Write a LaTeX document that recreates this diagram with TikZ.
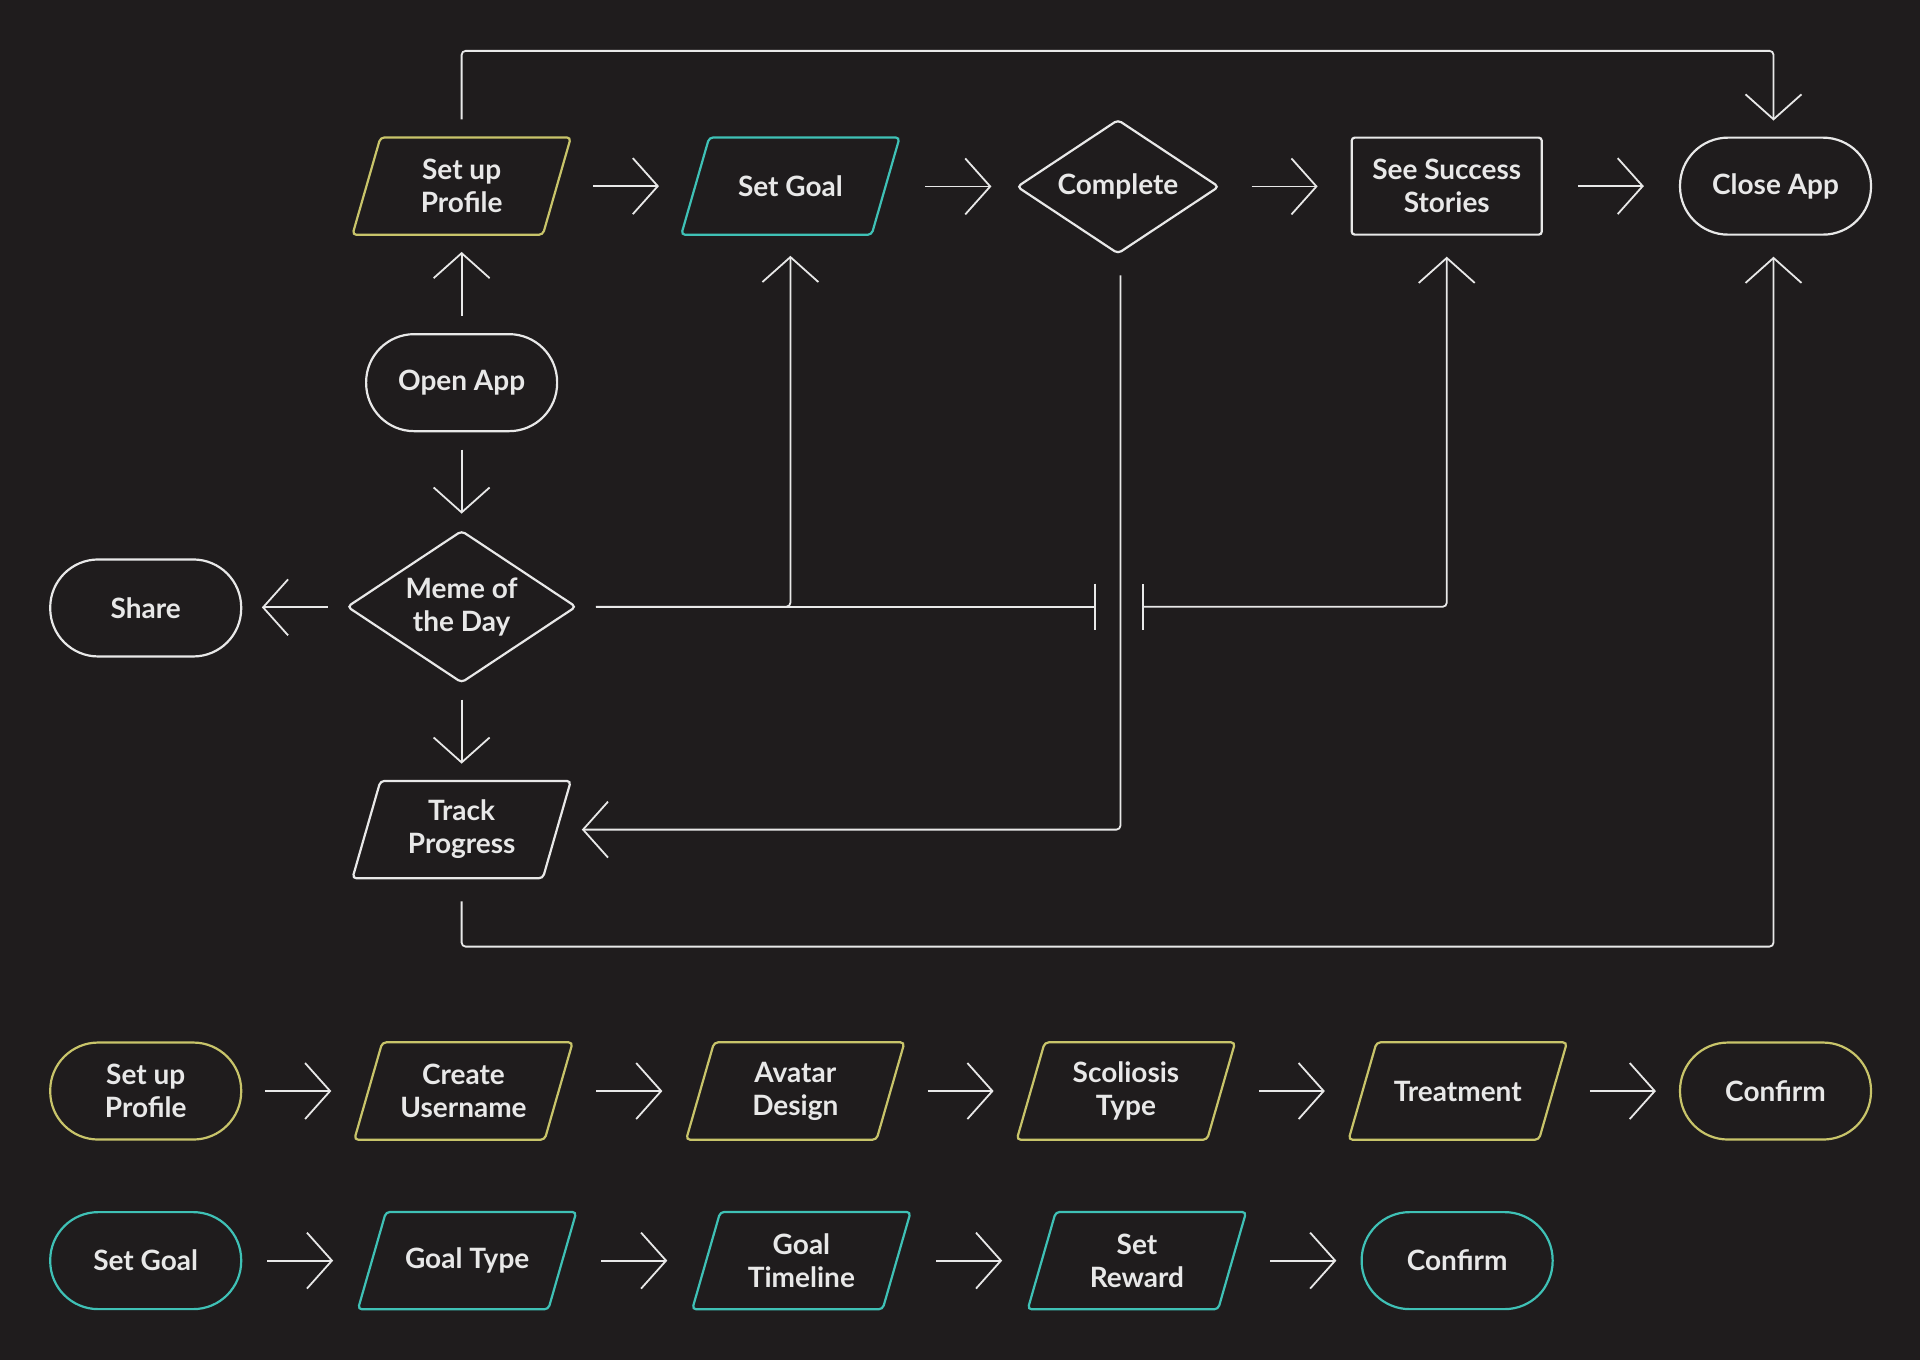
\documentclass[tikz,border=0pt]{standalone}
\usepackage{fontspec}
\setmainfont{Lato}
\usetikzlibrary{arrows.meta,calc}
\definecolor{bg}{HTML}{1F1C1D}
\definecolor{fg}{HTML}{E8E8E8}
\definecolor{ylw}{HTML}{C8C46A}
\definecolor{tel}{HTML}{3FC1B6}
\tikzset{
  box/.style={inner sep=0pt, minimum width=218pt, minimum height=97pt, align=center, text=fg,
    font=\fontsize{28}{33}\selectfont\bfseries},
  border/.style={line width=2.2pt},
  edge/.style={draw=fg, line width=1.8pt},
  arr/.style={edge, -{Straight Barb[length=25pt, width=56pt, line width=1.8pt]}},
  bararr/.style={edge, {Bar[width=46pt, line width=1.8pt]}-{Straight Barb[length=25pt, width=56pt, line width=1.8pt]}},
  barend/.style={edge, -{Bar[width=46pt, line width=1.8pt]}},
  stadium/.style={box, minimum width=191pt, border, rounded corners=48pt},
}
\newcommand\parabox[4]{%
  \node[box] (#1) at (#2) {#3};
  \draw[#4, border, rounded corners=4pt] (#1.south west) -- ([xshift=28pt]#1.north west)
    -- (#1.north east) -- ([xshift=-28pt]#1.south east) -- cycle;}
\newcommand\diabox[5]{%
  \node[box, minimum width=#4, minimum height=#5] (#1) at (#2) {#3};
  \draw[fg, border, rounded corners=4pt] (#1.west) -- (#1.north) -- (#1.east) -- (#1.south) -- cycle;}
\newcommand\linkH[2]{\draw[arr] ($(#1.east)!.5!(#2.west)+(-33pt,0)$) -- ($(#1.east)!.5!(#2.west)+(33pt,0)$);}
\newcommand\linkV[2]{\draw[arr] ($(#1.south)!.5!(#2.north)+(0,32pt)$) -- ($(#1.south)!.5!(#2.north)+(0,-32pt)$);}
\begin{document}
\begin{tikzpicture}[x=1.2245pt, y=-1.2245pt]
\fill[bg] (0,0) rectangle (1568,1110.66);
\useasboundingbox (0,0) rectangle (1568,1110.66);
% top row
\parabox{sup}{377,152}{Set up\\Profile}{ylw}
\parabox{setgoal}{645.5,152}{Set Goal}{tel}
\diabox{complete}{913,152.5}{Complete}{201pt}{133pt}
\node[box, minimum width=190pt, draw=fg, border, rounded corners=3pt] (success) at (1181.5,152) {See Success\\Stories};
\node[stadium, draw=fg] (close) at (1450,152) {Close App};
% left column
\node[stadium, draw=fg] (openapp) at (377,312.5) {Open App};
\diabox{meme}{377,495.5}{Meme of\\the Day}{228pt}{151pt}
\node[stadium, draw=fg] (share) at (119,496.5) {Share};
\parabox{track}{377,677.5}{Track\\Progress}{fg}
\coordinate (j1) at (895,495.5);
\coordinate (j2) at (933,495.5);
% top row links
\linkH{sup}{setgoal}
\linkH{setgoal}{complete}
\linkH{complete}{success}
\linkH{success}{close}
\draw[arr] ($(openapp.north)!.5!(sup.south)+(0,-32pt)$) -- ($(openapp.north)!.5!(sup.south)+(0,32pt)$);
\linkV{openapp}{meme}
\linkV{meme}{track}
\draw[arr] ($(meme.west)!.5!(share.east)+(33pt,0)$) -- ($(meme.west)!.5!(share.east)+(-33pt,0)$);
\draw[arr, rounded corners=4pt] ([yshift=18pt]sup.north) -- ++(0,-56) -| ([xshift=-2pt,yshift=16pt]close.north);
\draw[barend] ([xshift=20pt]meme.east) -- (j1);
\draw[arr, rounded corners=4pt] ([xshift=20pt]meme.east) -| ([yshift=-21pt]setgoal.south);
\draw[bararr, rounded corners=4pt] (j2) -| ([yshift=-21pt]success.south);
\draw[arr, rounded corners=4pt] ([xshift=2.5pt,yshift=-22pt]complete.south) |- ([xshift=11pt]track.east);
\draw[arr, rounded corners=4pt] ([yshift=-23pt]track.south) -- ++(0,37) -| ([xshift=-2pt,yshift=-21pt]close.south);
% row 1
\node[stadium, draw=ylw] (p1) at (119,891) {Set up\\Profile};
\parabox{cu}{378.5,891}{Create\\Username}{ylw}
\parabox{ad}{649.5,891}{Avatar\\Design}{ylw}
\parabox{sct}{919.5,891}{Scoliosis\\Type}{ylw}
\parabox{trt}{1190.5,891}{Treatment}{ylw}
\node[stadium, draw=ylw] (c1) at (1450,891) {Confirm};
\linkH{p1}{cu}
\linkH{cu}{ad}
\linkH{ad}{sct}
\linkH{sct}{trt}
\linkH{trt}{c1}
% row 2
\node[stadium, draw=tel] (g0) at (119,1029.5) {Set Goal};
\parabox{gt}{381.5,1029.5}{Goal Type}{tel}
\parabox{gtl}{654.5,1029.5}{Goal\\Timeline}{tel}
\parabox{sr}{928.5,1029.5}{Set\\Reward}{tel}
\node[stadium, draw=tel] (c2) at (1190,1029.5) {Confirm};
\linkH{g0}{gt}
\linkH{gt}{gtl}
\linkH{gtl}{sr}
\linkH{sr}{c2}
\end{tikzpicture}
\end{document}
